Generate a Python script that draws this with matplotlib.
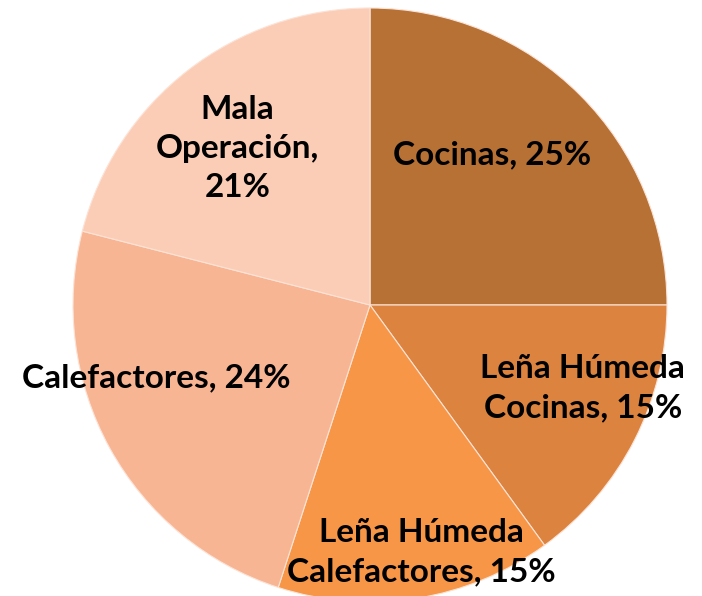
import numpy as np
import matplotlib.pyplot as plt

labels = ['Cocinas', 'Leña Húmeda\nCocinas', 'Leña Húmeda\nCalefactores',
          'Calefactores', 'Mala\nOperación']
label_text = ['Cocinas, 25%', 'Leña Húmeda\nCocinas, 15%', 'Leña Húmeda\nCalefactores, 15%',
              'Calefactores, 24%', 'Mala\nOperación,\n21%']
values = [25, 15, 15, 24, 21]
colors = ['#B87135', '#DC843F', '#F79646', '#F8B593', '#FBCDB6']

# label placement (angle in deg, radius fraction)
label_pos = [(50.9, 0.65), (-21.4, 0.77), (-78.3, 0.85), (198.8, 0.76), (130.3, 0.69)]

fig = plt.figure(figsize=(7.02, 5.96), dpi=100)
ax = fig.add_axes([73 / 702, -6 / 596, 594 / 702, 594 / 596])

ax.pie(values, colors=colors, startangle=90, counterclock=False, radius=1,
       wedgeprops={'edgecolor': '#FBE3D6', 'linewidth': 0.8})

for txt, (ang, r) in zip(label_text, label_pos):
    a = np.deg2rad(ang)
    ax.text(r * np.cos(a), r * np.sin(a), txt, ha='center', va='center',
            fontsize=24, fontweight='bold', family='Lato', linespacing=1.42,
            clip_on=False)

ax.set_xlim(-1, 1)
ax.set_ylim(-1, 1)
ax.set_aspect('equal')
ax.axis('off')

fig.savefig('out.png', dpi=100)
